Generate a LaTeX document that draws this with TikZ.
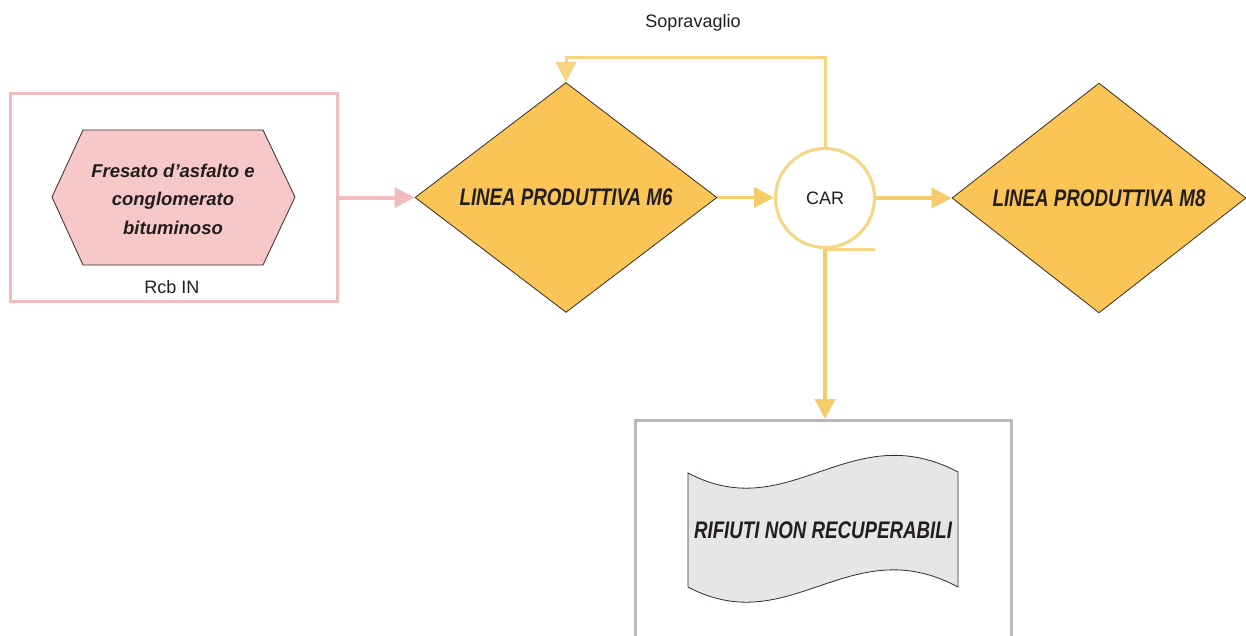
\documentclass[tikz,border=0pt]{standalone}
\usepackage{fontspec}
\setmainfont{Liberation Sans}
\usetikzlibrary{shapes.geometric,arrows.meta}

\definecolor{pinkline}{RGB}{243,188,188}
\definecolor{pinkfill}{RGB}{246,200,200}
\definecolor{flowc}{RGB}{246,203,105}
\definecolor{ringc}{RGB}{246,214,130}
\definecolor{lineafill}{RGB}{250,196,86}
\definecolor{edgec}{RGB}{55,45,35}
\definecolor{boxgray}{RGB}{185,185,185}
\definecolor{wastefill}{RGB}{230,230,230}
\definecolor{inkc}{RGB}{35,30,30}

% condensed bold-italic caption used inside the process shapes
\newcommand{\proclabel}[1]{\scalebox{0.78}[1]{\fontsize{24}{28}\selectfont\bfseries\itshape #1}}

\begin{document}
\begin{tikzpicture}[x=1pt,y=-1pt,
  linea/.style={diamond, draw=edgec, fill=lineafill, line width=0.8pt,
    minimum width=302pt, minimum height=182pt, inner sep=0pt, text=inkc},
  flow/.style={draw=flowc, line width=3.5pt,
    -{Triangle[length=20pt,width=20pt]}},
  plain/.style={font=\fontsize{18}{21}\selectfont, text=inkc, inner sep=0pt}
]
\useasboundingbox (0,0) rectangle (1246,635);
\clip (0,0) rectangle (1246,635);
\fill[white] (0,0) rectangle (1246,635);

% input area with the material hexagon
\node[draw=pinkline, line width=3pt, minimum width=327pt, minimum height=208pt,
  inner sep=0pt] (rcb) at (174,197.5) {};
\draw[draw=edgec, fill=pinkfill, line width=0.8pt]
  (52,197) -- (83,130) -- (263,130) -- (295,197) -- (263,265) -- (83,265) -- cycle;
\node[align=center, text=inkc, inner sep=0pt,
  font=\fontsize{18.5}{28.5}\selectfont\bfseries\itshape] (fresato) at (173,199)
  {Fresato d’asfalto e\\conglomerato\\bituminoso};
\node[plain] (rcbl) at (172,287) {Rcb IN};

% production lines
\node[linea] (m6) at (566,197.5) {\proclabel{LINEA PRODUTTIVA M6}};
\node[linea, minimum width=294pt, minimum height=184pt] (m8) at (1099,198)
  {\proclabel{LINEA PRODUTTIVA M8}};

% screening node
\node[circle, draw=ringc, fill=white, line width=3pt, minimum size=99pt,
  inner sep=0pt, font=\fontsize{18}{21}\selectfont, text=inkc] (car) at (825,198) {CAR};
\draw[ringc, line width=3pt] (car.south) -- ++(50,0);

% non-recoverable waste area
\node[draw=boxgray, line width=3pt, minimum width=376pt, minimum height=240pt,
  inner sep=0pt, anchor=north] (waste) at (823.5,419) {};
\draw[draw=edgec, fill=wastefill, line width=0.8pt]
  (688,473) .. controls (790,527) and (850,415) .. (958,472)
  -- (958,587) .. controls (850,529) and (790,641) .. (688,587) -- cycle;
\node[inner sep=0pt, text=inkc] (rifiuti) at (823,530)
  {\proclabel{RIFIUTI NON RECUPERABILI}};

% connectors
\coordinate (top) at (0,57);
\draw[flow, draw=pinkline, line width=4pt] (rcb.east) -- (rcb.east -| m6.west);
\draw[flow] (m6.east) -- (m6.east -| car.west);
\draw[flow] (car.east) -- (car.east -| m8.west);
\draw[flow] (car.south) -- (car.south |- waste.north);
\draw[flow, draw=ringc, line width=3pt] (car.north) -- (car.north |- top) -| (m6.north);
\node[plain] (sopra) at (693,23) {Sopravaglio};
\end{tikzpicture}
\end{document}
